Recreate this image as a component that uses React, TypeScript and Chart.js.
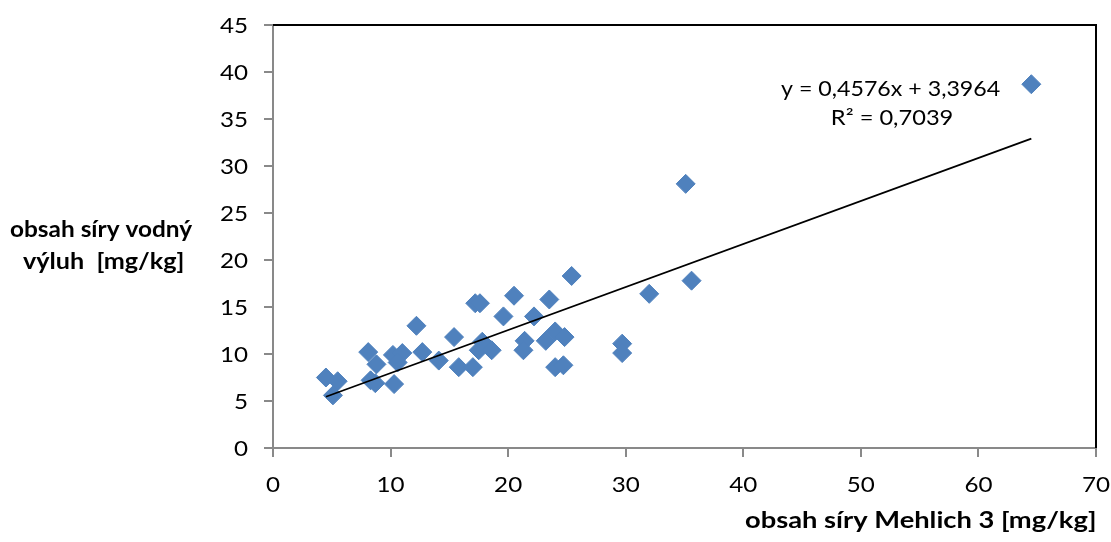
import React, { useEffect, useRef } from "react";
import { Chart, registerables } from "chart.js";

Chart.register(...registerables);

const xValues = [4.5, 5.5, 5.1, 8.1, 8.8, 8.3, 8.7, 10.3, 10.2, 11.0, 10.6, 12.2, 12.7, 14.1, 15.4, 15.8, 17.0, 17.2, 17.6, 17.8, 17.5, 18.6, 19.6, 20.5, 21.4, 21.3, 22.2, 23.2, 23.5, 24.0, 24.0, 24.7, 24.8, 25.4, 29.7, 29.7, 32.0, 35.1, 35.6, 64.5];
const yValues = [7.5, 7.1, 5.6, 10.2, 8.9, 7.2, 6.9, 6.8, 9.9, 10.1, 9.1, 13.0, 10.2, 9.3, 11.8, 8.6, 8.6, 15.4, 15.4, 11.3, 10.4, 10.4, 14.0, 16.2, 11.4, 10.4, 14.0, 11.4, 15.8, 12.4, 8.6, 8.8, 11.8, 18.3, 11.1, 10.1, 16.4, 28.1, 17.8, 38.7];

const trendSlope = 0.4576;
const trendIntercept = 3.3964;
const equationLines = ["y = 0,4576x + 3,3964", "R² = 0,7039"];
const yTitleLines = ["obsah síry vodný", "výluh  [mg/kg]"];
const xTitle = "obsah síry Mehlich 3 [mg/kg]";

const FONT = "Lato, 'Open Sans', sans-serif";
const TICK_SX = 1.18;
const AREA = { left: 273, right: 1096, top: 25, bottom: 448 };

function fitText(ctx: any, text: string, left: number, width: number, baseline: number, font: string) {
  ctx.save();
  ctx.font = font;
  ctx.textAlign = "left";
  ctx.textBaseline = "alphabetic";
  const m = ctx.measureText(text);
  const inkL = -m.actualBoundingBoxLeft;
  const inkW = m.actualBoundingBoxRight + m.actualBoundingBoxLeft;
  const sx = width / inkW;
  ctx.translate(left, baseline);
  ctx.scale(sx, 1);
  ctx.fillText(text, -inkL, 0);
  ctx.restore();
}

function scaledText(ctx: any, text: string, x: number, baseline: number, align: string, font: string, sx: number) {
  ctx.save();
  ctx.font = font;
  ctx.textAlign = align;
  ctx.textBaseline = "alphabetic";
  ctx.translate(x, baseline);
  ctx.scale(sx, 1);
  ctx.fillText(text, 0, 0);
  ctx.restore();
}

export default function App() {
  const ref = useRef<HTMLCanvasElement | null>(null);

  useEffect(() => {
    document.body.style.margin = "0";
    const canvas = ref.current;
    if (!canvas) return;

    const points = xValues.map((x, i) => ({ x, y: yValues[i] }));
    const xMin = Math.min(...xValues);
    const xMax = Math.max(...xValues);
    const trend = [
      { x: xMin, y: trendSlope * xMin + trendIntercept },
      { x: xMax, y: trendSlope * xMax + trendIntercept },
    ];

    const decor = {
      id: "decor",
      afterDatasetsDraw(chart: any) {
        const ctx = chart.ctx;
        const a = chart.chartArea;
        ctx.save();
        ctx.strokeStyle = "#000";
        ctx.lineWidth = 2;
        ctx.beginPath();
        ctx.moveTo(a.left, a.top);
        ctx.lineTo(a.right, a.top);
        ctx.lineTo(a.right, a.bottom);
        ctx.stroke();
        ctx.fillStyle = "#000";

        const tickFont = `20.5px ${FONT}`;
        const xs = chart.scales.x;
        const ys = chart.scales.y;
        xs.ticks.forEach((t: any) => {
          const px = xs.getPixelForValue(t.value);
          scaledText(ctx, String(t.value), px, a.bottom + 44, "center", tickFont, TICK_SX);
        });
        ys.ticks.forEach((t: any) => {
          const py = ys.getPixelForValue(t.value);
          scaledText(ctx, String(t.value), a.left - 25, py + 7.8, "right", tickFont, TICK_SX);
        });

        const eqFont = `21px ${FONT}`;
        fitText(ctx, equationLines[0], 781, 219, 96, eqFont);
        fitText(ctx, equationLines[1], 832, 120, 125, eqFont);

        const bFont = `bold 23px ${FONT}`;
        fitText(ctx, yTitleLines[0], 10, 183, 237, bFont);
        fitText(ctx, yTitleLines[1], 23, 160, 268.5, bFont);
        fitText(ctx, xTitle, 745, 350, 527.5, bFont);
        ctx.restore();
      },
    };

    const padding = { top: AREA.top, right: 1111 - AREA.right, left: 0, bottom: 0 };
    const options: any = {
      responsive: false,
      animation: false,
      devicePixelRatio: 1,
      layout: { padding },
      plugins: { legend: { display: false }, tooltip: { enabled: false } },
      scales: {
        x: {
          type: "linear",
          min: 0,
          max: 70,
          afterFit: (s: any) => {
            s.height = 542 - AREA.bottom;
          },
          ticks: {
            stepSize: 10,
            color: "rgba(0,0,0,0)",
            font: { family: FONT, size: 1 },
            padding: 0,
            maxRotation: 0,
          },
          grid: {
            drawOnChartArea: false,
            drawTicks: true,
            tickLength: 9,
            color: "#898989",
            lineWidth: 2,
          },
          border: { color: "#898989", width: 2 },
        },
        y: {
          type: "linear",
          min: 0,
          max: 45,
          afterFit: (s: any) => {
            s.width = AREA.left;
          },
          ticks: {
            stepSize: 5,
            color: "rgba(0,0,0,0)",
            font: { family: FONT, size: 1 },
            padding: 0,
          },
          grid: {
            drawOnChartArea: false,
            drawTicks: true,
            tickLength: 9,
            color: "#898989",
            lineWidth: 2,
          },
          border: { color: "#898989", width: 2 },
        },
      },
    };

    const chart = new Chart(canvas, {
      type: "scatter",
      data: {
        datasets: [
          {
            type: "line",
            data: trend,
            borderColor: "#000",
            borderWidth: 1.75,
            pointRadius: 0,
            fill: false,
            order: 0,
          } as any,
          {
            data: points,
            backgroundColor: "#4F81BD",
            borderColor: "#4F81BD",
            borderWidth: 1,
            pointStyle: "rectRot",
            pointRadius: 9.5,
            order: 1,
          },
        ],
      },
      options,
      plugins: [decor],
    });

    return () => chart.destroy();
  }, []);

  return (
    <div style={{ position: "fixed", left: 0, top: 0, width: 1111, height: 542, background: "#fff" }}>
      <canvas ref={ref} width={1111} height={542} style={{ width: 1111, height: 542 }} />
    </div>
  );
}
